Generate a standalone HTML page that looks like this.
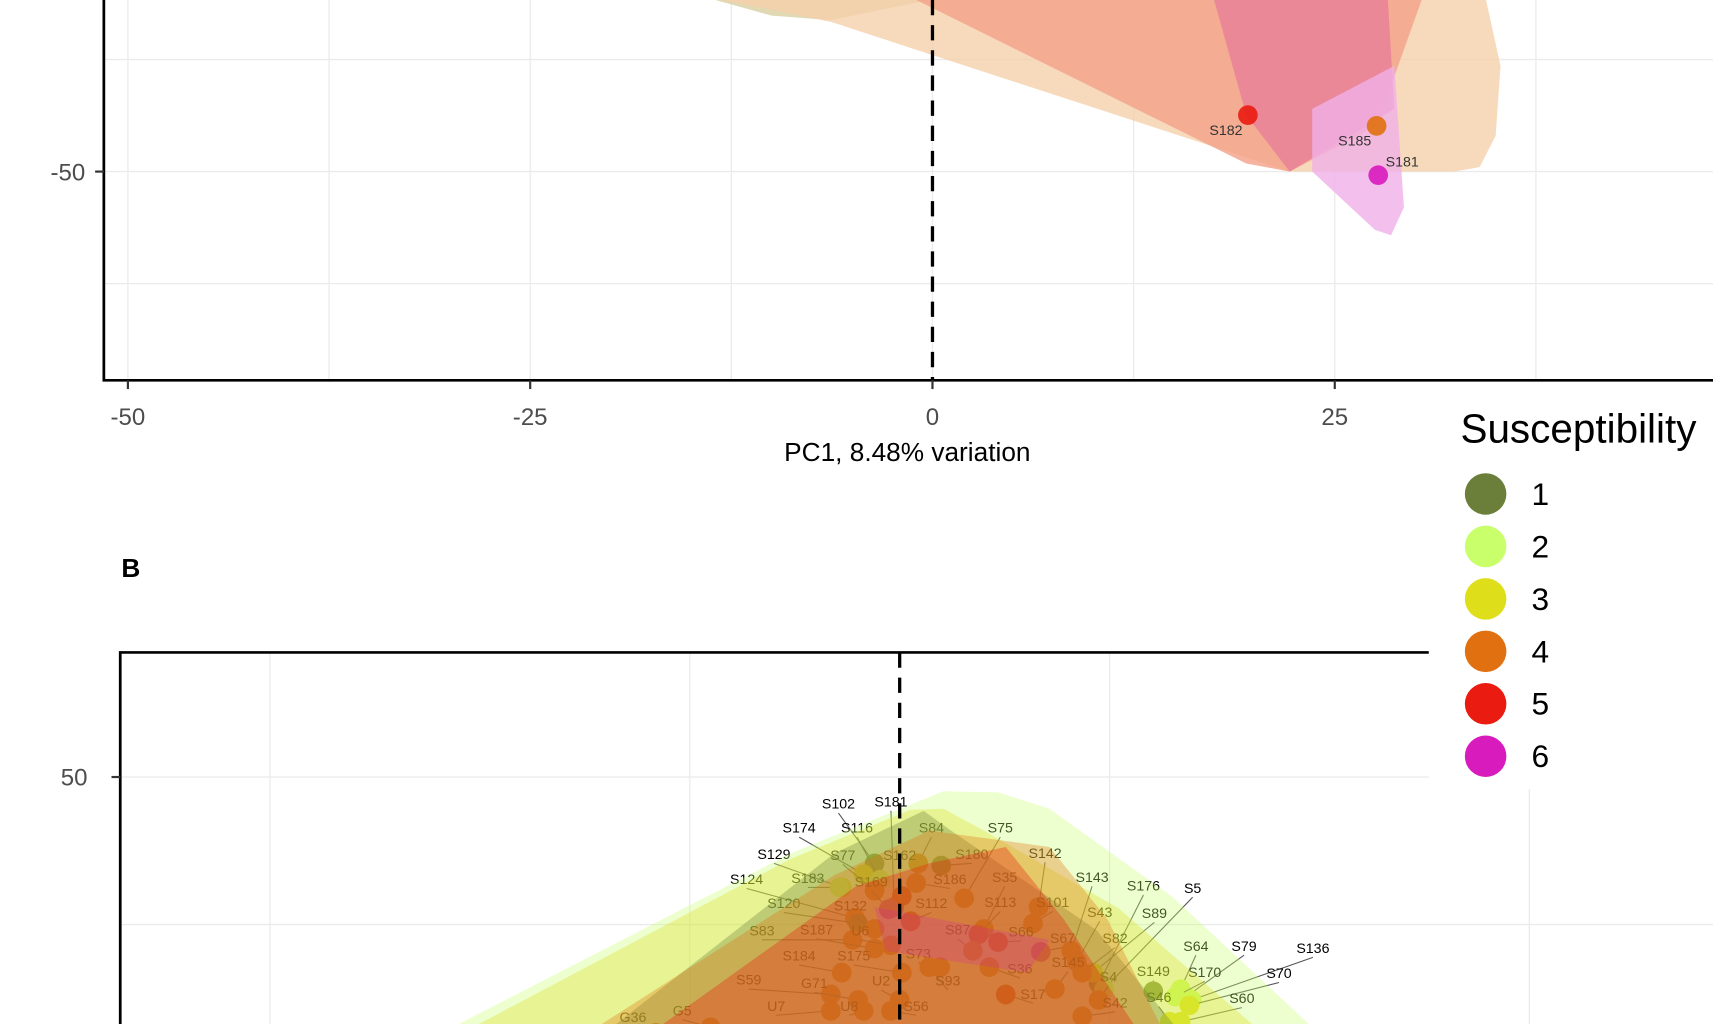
<!DOCTYPE html>
<html>
<head>
<meta charset="utf-8">
<style>
  html,body{margin:0;padding:0;background:#fff;width:1713px;height:1024px;overflow:hidden;}
  svg{display:block;}
  text{font-family:"Liberation Sans",sans-serif;}
</style>
</head>
<body>
<svg id="chart" xmlns="http://www.w3.org/2000/svg" width="1713" height="1024" viewBox="0 0 1567 937" preserveAspectRatio="none">
  <defs>
    <clipPath id="clipA"><rect x="95" y="0" width="1472" height="348"/></clipPath>
    <clipPath id="clipB"><rect x="110" y="597" width="1457" height="340"/></clipPath>
  </defs>
  <g id="panelA"></g>
  <g id="panelB"></g>
  <g id="legend"></g>
</svg>
<script>
// ---------- DATA ----------
const groupColors = ["#6b7f3a","#c8ff6a","#dede1a","#e07010","#ea1b10","#d81bbd"];
const legendLabels = ["1","2","3","4","5","6"];

// Panel A (PC1 vs PC2)
const aXTicks = [-50,-25,0,25];
const aXMinor = [-37.5,-12.5,12.5,37.5];
const aYTicks = [-50];
const aYMinor = [-37.5,-62.5];
const aNames = ["S182","S185","S181"];
const aGroups = [5,4,6];
const aX = [19.6,27.6,27.7];
const aY = [-43.7,-44.9,-50.4];
const aHullGroups = [1,4,5,5,6];
const aHulls = [
  [[-13.5,-30.85],[-0.2,-30.85],[-6.3,-33.1],[-10,-32.6]],
  [[-13.1,-30.85],[34.4,-30.85],[35.3,-38.2],[35,-46],[34,-49.5],[32.4,-50],[22.2,-50],[-6.3,-33.3]],
  [[-1,-30.85],[30.4,-30.85],[27.6,-44.9],[22.2,-50],[19.5,-49.1]],
  [[17.5,-30.85],[28.3,-30.85],[28.7,-43],[22.2,-50],[19.5,-43.7]],
  [[23.6,-43],[28.7,-38.2],[29.3,-54],[28.5,-57.1],[27.5,-56.5],[23.6,-50]]
];
const aHullColors = ["#d8cfa0","#f5d0aa","#f2a088","#e8809a","#f0b0e8"];

// Panel B
const bYTicks = [50];
const bYMinor = [-85];
const bXGrid = [-576,-192,192,576];
const bNames = ["S102","S181","S174","S116","S84","S75","S129","S77","S162","S180","S142","S124","S183","S169","S186","S35","S143","S176","S5","S120","S132","S112","S113","S101","S43","S89","S83","S187","U6","S87","S66","S67","S82","S64","S79","S136","S184","S175","S73","S145","S36","S149","S170","S70","S59","G71","U2","S93","S4","S17","S46","S42","S60","U7","U8","S56","G5","G36"];
const bGroups = [1,6,3,2,4,4,3,4,5,1,4,4,2,6,4,4,4,1,2,1,4,5,5,4,4,3,4,4,4,4,5,6,4,2,2,2,4,4,4,4,4,1,2,3,4,4,4,4,4,5,3,4,3,4,4,4,4,4];
const bX = [-23,-5,-33,-18,17,59,-53,-23,2,38,127,-41,-55,-10,15,77,157,182,187,-38,-23,10,72,122,162,177,-43,-23,-8,67,90,129,167,257,262,267,-53,2,37,142,82,232,252,265,-63,-38,0,27,182,97,247,167,257,-63,-33,-8,-173,-223];
const bY = [-29,-69,-39,-44,-29,-61,-51,-54,-59,-31,-69,-79,-51,-71,-47,-89,-109,-139,-144,-84,-89,-82,-94,-84,-119,-129,-99,-107,-104,-109,-101,-110,-129,-144,-151,-154,-129,-129,-124,-144,-124,-146,-151,-159,-149,-154,-154,-124,-154,-149,-174,-169,-174,-164,-164,-164,-179,-184];
const bLX = [-56,-8,-92,-39,29,92,-115,-52,0,66,133,-140,-84,-26,46,96,176,223,268,-106,-45,29,92,140,183,233,-126,-76,-36,53,111,149,197,271,315,378,-92,-42,17,154,110,232,279,347,-138,-78,-17,44,191,122,237,197,313,-113,-46,15,-199,-244];
const bLY = [21,23,-1,-1,-1,-1,-25,-26,-26,-25,-24,-48,-47,-50,-48,-46,-46,-54,-56,-70,-72,-70,-69,-69,-78,-79,-95,-94,-95,-94,-96,-102,-102,-109,-109,-111,-118,-118,-116,-124,-130,-132,-133,-134,-140,-143,-141,-141,-137,-153,-156,-161,-157,-164,-164,-164,-168,-174];
const bHullGroups = [2,3,1,4,5,6];
const bHulls = [
  [[-450,-200],[-100,-20],[40,37],[90,36],[137,21],[250,-60],[400,-200]],
  [[-430,-200],[-100,-25],[10,20],[40,21],[77,1],[200,-70],[350,-200]],
  [[-290,-200],[-60,-20],[22,19],[47,1],[180,-90],[270,-200]],
  [[-310,-200],[-60,-40],[27,1],[137,-14],[190,-80],[250,-200]],
  [[-250,-200],[-40,-50],[27,-29],[97,-14],[150,-80],[230,-200]],
  [[-23,-69],[137,-99],[117,-129],[-13,-109]]
];
const bHullOpacity = [0.33,0.33,0.33,0.33,0.33,0.2];

// ---------- SCALES ----------
const axA = v => 853 + v*14.72;
const ayA = v => 157 - (v+50)*8.2;
const axB = v => 823 + v;
const ayB = v => 711 + (50 - v);

const NS = "http://www.w3.org/2000/svg";
function mk(tag, attrs, parent){
  const e = document.createElementNS(NS, tag);
  for (const k in attrs) e.setAttribute(k, attrs[k]);
  parent.appendChild(e);
  return e;
}
const A = document.getElementById("panelA");
const B = document.getElementById("panelB");
const L = document.getElementById("legend");

// ---------- PANEL A ----------
const aGrid = mk("g", {"clip-path":"url(#clipA)"}, A);


aXTicks.concat(aXMinor).forEach(v=>{
  const l = mk("line",{x1:axA(v),x2:axA(v),y1:0,y2:348,stroke:"#ebebeb","stroke-width":1.2},aGrid);
  
  
});
aYTicks.concat(aYMinor).forEach(v=>{
  const l = mk("line",{x1:95,x2:1567,y1:ayA(v),y2:ayA(v),stroke:"#ebebeb","stroke-width":1.2},aGrid);
  
  
});
aHulls.forEach((h,i)=>{
  const p = mk("polygon",{points:h.map(q=>axA(q[0])+","+ayA(q[1])).join(" "),fill:aHullColors[i],"fill-opacity":0.8,stroke:"none"},aGrid);
  
  
});
aNames.forEach((n,i)=>{
  const px = axA(aX[i]), py = ayA(aY[i]);
  const c = mk("circle",{cx:px,cy:py,r:9,fill:groupColors[aGroups[i]-1],"fill-opacity":0.9},aGrid);
  
  
  const dx = i===2 ? 22 : -20, dy = i===2 ? -12 : 14;
  const t = mk("text",{x:px+dx,y:py+dy+4,"font-size":13,"text-anchor":"middle",fill:"#333"},aGrid);
  t.textContent = n;
  
  
});
const dA = mk("line",{x1:axA(0),x2:axA(0),y1:0,y2:348,stroke:"#000","stroke-width":3,"stroke-dasharray":"14,9"},A);


const axLA = mk("path",{d:"M95,0 L95,348 L1567,348",fill:"none",stroke:"#000","stroke-width":2.5},A);


aXTicks.forEach(v=>{
  const tk = mk("line",{x1:axA(v),x2:axA(v),y1:348,y2:356,stroke:"#333","stroke-width":2},A);
  
  
  const t = mk("text",{x:axA(v),y:389,"font-size":22,"text-anchor":"middle",fill:"#4d4d4d"},A);
  t.textContent = String(v);
  
  
});
aYTicks.forEach(v=>{
  const tk = mk("line",{x1:87,x2:95,y1:ayA(v),y2:ayA(v),stroke:"#333","stroke-width":2},A);
  
  
  const t = mk("text",{x:78,y:ayA(v)+8,"font-size":22,"text-anchor":"end",fill:"#4d4d4d"},A);
  t.textContent = String(v);
  
  
});
const xt = mk("text",{x:830,y:422,"font-size":24,"text-anchor":"middle",fill:"#000"},A);
xt.textContent = "PC1, 8.48% variation";



// ---------- PANEL B ----------
const bl = mk("text",{x:111,y:528,"font-size":24,"font-weight":"bold",fill:"#000"},B);
bl.textContent = "B";


const bG = mk("g",{"clip-path":"url(#clipB)"},B);


bXGrid.forEach(v=>{
  const l = mk("line",{x1:axB(v),x2:axB(v),y1:597,y2:937,stroke:"#ebebeb","stroke-width":1.2},bG);
  
  
});
bYTicks.concat(bYMinor).forEach(v=>{
  const l = mk("line",{x1:110,x2:1567,y1:ayB(v),y2:ayB(v),stroke:"#ebebeb","stroke-width":1.2},bG);
  
  
});
bNames.forEach((n,i)=>{
  const px = axB(bX[i]), py = ayB(bY[i]), lx = axB(bLX[i]), ly = ayB(bLY[i]);
  const ln = mk("line",{x1:px,y1:py,x2:lx,y2:ly+4,stroke:"#555","stroke-width":1},bG);
  
  
  const c = mk("circle",{cx:px,cy:py,r:9,fill:groupColors[bGroups[i]-1]},bG);
  
  
  const t = mk("text",{x:lx,y:ly,"font-size":13,"text-anchor":"middle",fill:"#000"},bG);
  t.textContent = n;
  
  
});
bHulls.forEach((h,i)=>{
  const p = mk("polygon",{points:h.map(q=>axB(q[0])+","+ayB(q[1])).join(" "),fill:groupColors[bHullGroups[i]-1],"fill-opacity":bHullOpacity[i],stroke:"none"},bG);
  
  
});
const dB = mk("line",{x1:axB(0),x2:axB(0),y1:597,y2:937,stroke:"#000","stroke-width":3,"stroke-dasharray":"14,9"},B);


const axLB = mk("path",{d:"M1567,597 L110,597 L110,937",fill:"none",stroke:"#000","stroke-width":2.5},B);


bYTicks.forEach(v=>{
  const tk = mk("line",{x1:102,x2:110,y1:ayB(v),y2:ayB(v),stroke:"#333","stroke-width":2},B);
  
  
  const t = mk("text",{x:80,y:ayB(v)+8,"font-size":22,"text-anchor":"end",fill:"#4d4d4d"},B);
  t.textContent = String(v);
  
  
});

// ---------- LEGEND ----------
const lb = mk("rect",{x:1307,y:360,width:260,height:362,fill:"#fff"},L);


const lt = mk("text",{x:1336,y:405,"font-size":37,fill:"#000"},L);
lt.textContent = "Susceptibility";


legendLabels.forEach((lab,i)=>{
  const y = 452 + i*48;
  const c = mk("circle",{cx:1359,cy:y,r:19,fill:groupColors[i]},L);
  
  
  const t = mk("text",{x:1401,y:y+10,"font-size":29,fill:"#000"},L);
  t.textContent = lab;
  
  
});
</script>
</body>
</html>
